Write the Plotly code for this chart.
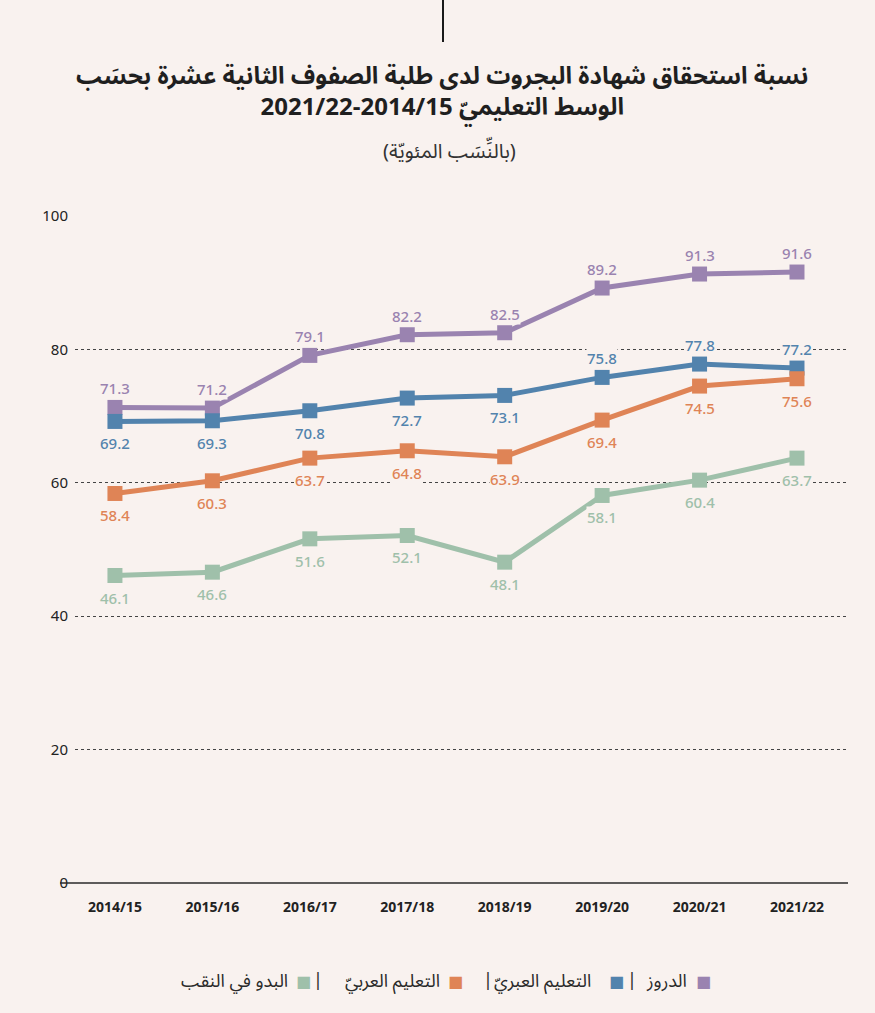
import plotly.graph_objects as go

years = ['2014/15', '2015/16', '2016/17', '2017/18', '2018/19', '2019/20', '2020/21', '2021/22']

druze = [71.3, 71.2, 79.1, 82.2, 82.5, 89.2, 91.3, 91.6]
hebrew = [69.2, 69.3, 70.8, 72.7, 73.1, 75.8, 77.8, 77.2]
arab = [58.4, 60.3, 63.7, 64.8, 63.9, 69.4, 74.5, 75.6]
bedouin = [46.1, 46.6, 51.6, 52.1, 48.1, 58.1, 60.4, 63.7]

names = ['الدروز', 'التعليم العبريّ', 'التعليم العربيّ', 'البدو في النقب']
colors = ['#9a83b0', '#5283ad', '#df8456', '#9fc0aa']

# label side per point: 1 above, -1 below
label_side = [
    [1] * 8,
    [-1, -1, -1, -1, -1, 1, 1, 1],
    [-1] * 8,
    [-1] * 8,
]

BG = '#f9f2ef'
FONT = 'Noto Sans Arabic, Noto Sans, DejaVu Sans, sans-serif'

# pixel helpers for paper coords (plot area 75..846 x 216..883)
def px(x):
    return (x - 75) / 771

def py(y):
    return (883 - y) / 667


fig = go.Figure()
series = [druze, hebrew, arab, bedouin]
for vals, name, col in zip(series, names, colors):
    fig.add_trace(go.Scatter(
        x=years, y=vals, name=name, mode='lines+markers',
        line=dict(color=col, width=5),
        marker=dict(symbol='square', size=15, color=col),
        showlegend=False, hoverinfo='skip',
    ))

annotations = []
for vals, col, sides in zip(series, colors, label_side):
    for yr, v, s in zip(years, vals, sides):
        annotations.append(dict(
            x=yr, y=v, text=f'{v:.1f}', showarrow=False,
            yshift=(19 if s > 0 else 22) * s, bgcolor=BG, borderpad=0,
            font=dict(size=15, color=col, family='Noto Sans', weight=500),
        ))

# titles
annotations += [
    dict(xref='paper', yref='paper', x=px(442), y=py(92), yanchor='middle',
         text='<b>نسبة استحقاق شهادة البجروت لدى طلبة الصفوف الثانية عشرة بحسَب</b>'
              '<br><b>2021/22-2014/15 الوسط التعليميّ</b>',
         showarrow=False, font=dict(size=24, color='#1f1f1f', family=FONT)),
    dict(xref='paper', yref='paper', x=px(449), y=py(152), yanchor='middle',
         text='(بالنِّسَب المئويّة)',
         showarrow=False, font=dict(size=20, color='#333333', family=FONT)),
]

# legend (right to left)
legend_right = [689, 593, 442, 290]
square_x = [703, 616, 455, 303]
sep_x = [632, 488, 318]
for nm, col, xr, sx in zip(names, colors, legend_right, square_x):
    annotations.append(dict(xref='paper', yref='paper', x=px(xr), y=py(981),
                            xanchor='right', yanchor='middle', text=nm, showarrow=False,
                            font=dict(size=18, color='#2a2a2a', family=FONT)))
    annotations.append(dict(xref='paper', yref='paper', x=px(sx), y=py(981),
                            xanchor='center', yanchor='middle', text='■', showarrow=False,
                            font=dict(size=16, color=col, family='DejaVu Sans')))
for sx in sep_x:
    annotations.append(dict(xref='paper', yref='paper', x=px(sx), y=py(980),
                            xanchor='center', yanchor='middle', text='|', showarrow=False,
                            font=dict(size=18, color='#2a2a2a', family=FONT)))

fig.update_layout(
    width=875, height=1013,
    paper_bgcolor=BG, plot_bgcolor=BG,
    margin=dict(l=75, r=29, t=216, b=130),
    annotations=annotations,
    shapes=[
        dict(type='line', xref='paper', yref='paper', x0=px(60), x1=px(848),
             y0=0, y1=0, line=dict(color='#2a2a2a', width=1.5)),
        dict(type='line', xref='paper', yref='paper', x0=px(443), x1=px(443),
             y0=py(0), y1=py(42), line=dict(color='#1a1a1a', width=2)),
    ],
    xaxis=dict(
        type='category', range=[-0.41, 7.503], showgrid=False, zeroline=False,
        showline=False, ticks='', ticklabelstandoff=14,
        tickfont=dict(size=14, color='#222222', family='Noto Sans', weight='bold'),
    ),
    yaxis=dict(
        range=[0, 100], tickvals=[0, 20, 40, 60, 80, 100], showgrid=True,
        gridcolor='#444444', griddash='dot', gridwidth=1, zeroline=False,
        showline=False, ticks='', ticklabelstandoff=6,
        tickfont=dict(size=15, color='#222222', family='Noto Sans'),
    ),
)

fig.write_html('out.html', config={'displayModeBar': False},
               post_script="document.body.style.margin='0';")
